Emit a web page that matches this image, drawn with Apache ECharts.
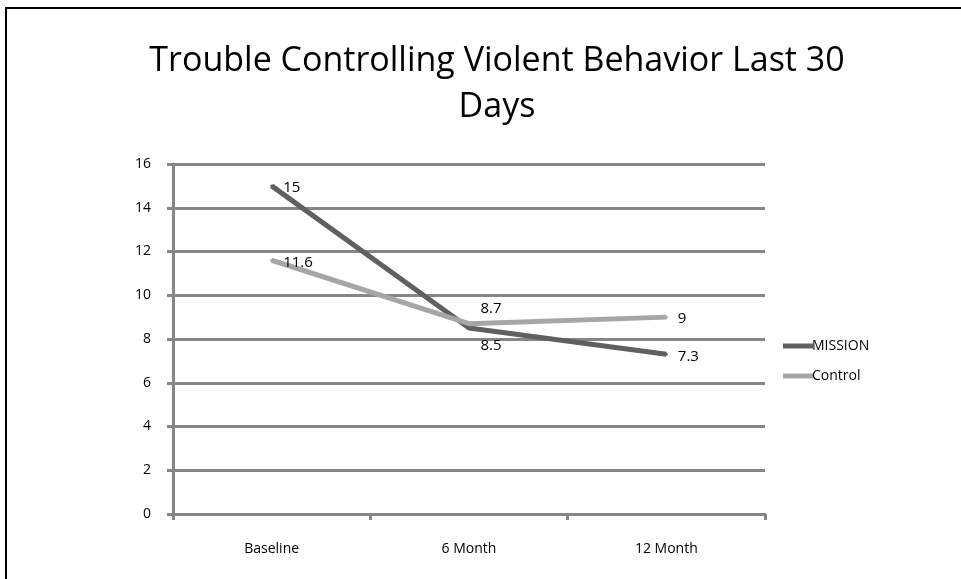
<!DOCTYPE html>
<html lang="en">
<head>
    <meta charset="UTF-8">
    <title>Trouble Controlling Violent Behavior</title>
    <script type="text/javascript" src="https://cdn.jsdelivr.net/npm/echarts@6/dist/echarts.min.js"></script>
    <style>
        html, body { margin: 0; padding: 0; background: #fff; }
    </style>
</head>
<body>
<div id="main" style="width: 961px;height:579px;"></div>

<script type="text/javascript">
    var categories = ['Baseline', '6 Month', '12 Month'];
    var missionValues = [15, 8.5, 7.3];
    var controlValues = [11.6, 8.7, 9];

    var chartDom = document.getElementById('main');
    var myChart = echarts.init(chartDom);

    var font = 'Open Sans';

    var option = {
        backgroundColor: '#fff',
        animation: false,
        title: {
            text: 'Trouble Controlling Violent Behavior Last 30\nDays',
            left: 492,
            top: 33,
            textAlign: 'center',
            textStyle: {
                fontFamily: font,
                fontSize: 34,
                fontWeight: 'normal',
                color: '#000',
                lineHeight: 46
            }
        },
        graphic: [{
            type: 'rect',
            shape: {x: 6, y: 8, width: 1000, height: 1000},
            style: {fill: 'none', stroke: '#000', lineWidth: 2}
        }],
        legend: {
            orient: 'vertical',
            left: 778,
            top: 334,
            itemGap: 16,
            itemWidth: 30,
            itemHeight: 5,
            icon: 'rect',
            textStyle: {fontFamily: font, fontSize: 14, color: '#000', padding: [0, 0, 0, -6]},
            data: ['MISSION', 'Control']
        },
        grid: {left: 173, right: 196, top: 164, bottom: 65},
        xAxis: {
            type: 'category',
            data: categories,
            boundaryGap: true,
            axisLine: {lineStyle: {color: '#868686', width: 3}},
            axisTick: {show: true, length: 6, lineStyle: {color: '#868686', width: 3}},
            axisLabel: {fontFamily: font, fontSize: 14, color: '#000', margin: 28}
        },
        yAxis: {
            type: 'value',
            min: 0,
            max: 16,
            interval: 2,
            axisLine: {show: true, lineStyle: {color: '#868686', width: 3}},
            axisTick: {show: true, length: 6, inside: false, lineStyle: {color: '#868686', width: 3}},
            axisLabel: {fontFamily: font, fontSize: 14, color: '#000', margin: 22},
            splitLine: {lineStyle: {color: '#868686', width: 3}}
        },
        series: [
            {
                name: 'MISSION',
                type: 'line',
                data: missionValues,
                color: '#606060',
                symbol: 'circle',
                symbolSize: 3,
                showSymbol: true,
                lineStyle: {width: 5, color: '#606060'},
                label: {
                    show: true,
                    position: 'right',
                    distance: 10,
                    fontFamily: font, fontSize: 15, color: '#000'
                },
                labelLayout: function (p) {
                    if (p.dataIndex === 0) return {dy: 2};
                    if (p.dataIndex === 1) return {dy: 18};
                    return {dy: 2};
                },
                z: 3
            },
            {
                name: 'Control',
                type: 'line',
                data: controlValues,
                color: '#a6a6a6',
                symbol: 'circle',
                symbolSize: 3,
                showSymbol: true,
                lineStyle: {width: 5, color: '#a6a6a6'},
                label: {
                    show: true,
                    position: 'right',
                    distance: 10,
                    fontFamily: font, fontSize: 15, color: '#000'
                },
                labelLayout: function (p) {
                    if (p.dataIndex === 1) return {dy: -15};
                    return {dy: 2};
                },
                z: 4
            }
        ]
    };

    option && myChart.setOption(option);
</script>
</body>
</html>
